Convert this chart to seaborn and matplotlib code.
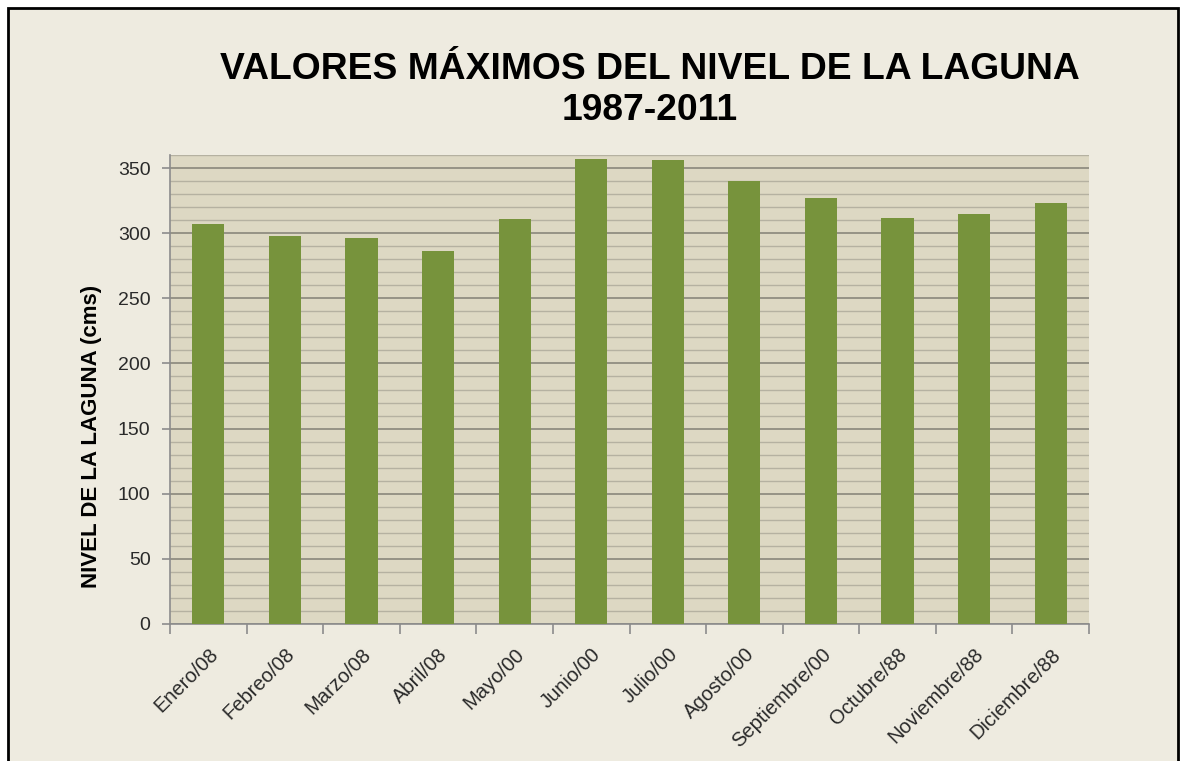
import matplotlib
matplotlib.use("Agg")
import matplotlib.pyplot as plt
import seaborn as sns
import pandas as pd
from matplotlib.patches import Rectangle
from matplotlib.ticker import MultipleLocator

categories = ["Enero/08", "Febreo/08", "Marzo/08", "Abril/08", "Mayo/00", "Junio/00",
              "Julio/00", "Agosto/00", "Septiembre/00", "Octubre/88", "Noviembre/88", "Diciembre/88"]
values = [307, 298, 296, 286, 311, 357, 356, 340, 327, 312, 315, 323]
title_text = "VALORES MÁXIMOS DEL NIVEL DE LA LAGUNA\n1987-2011"
ylabel_text = "NIVEL DE LA LAGUNA (cms)"

df = pd.DataFrame({"mes": categories, "nivel": values})

sns.set_theme(style="white")
plt.rcParams["font.family"] = ["Liberation Sans", "DejaVu Sans"]

fig = plt.figure(figsize=(11.85, 7.61), dpi=100)
fig.patch.set_facecolor("white")
# chart area background with border
border = Rectangle((8/1185, -0.05), (1178-8)/1185, 1.05 - 8/761, transform=fig.transFigure,
                   facecolor="#EEEBE0", edgecolor="black", linewidth=2, zorder=-10)
fig.patches.append(border)

ax = fig.add_axes([170/1185, 1 - 624/761, (1089-170)/1185, (624-155)/761])
ax.set_zorder(5)
ax.set_facecolor("#DDD8C3")

sns.barplot(data=df, x="mes", y="nivel", color="#77933C", width=0.42, saturation=1,
            ax=ax, zorder=3, edgecolor="none", linewidth=0)

ax.set_ylim(0, 360)
ax.set_xlim(-0.5, len(categories) - 0.5)
ax.yaxis.set_major_locator(MultipleLocator(50))
ax.yaxis.set_minor_locator(MultipleLocator(10))
ax.grid(axis="y", which="minor", color="#B5B1A1", linewidth=1, zorder=1)
ax.grid(axis="y", which="major", color="#8A877C", linewidth=1.2, zorder=1)
ax.set_axisbelow(True)

for s in ["top", "right"]:
    ax.spines[s].set_visible(False)
for s in ["left", "bottom"]:
    ax.spines[s].set_color("#8C8C8C")
    ax.spines[s].set_linewidth(1.2)

ax.set_xticks(range(len(categories)))
ax.set_xticklabels(categories, rotation=45, ha="right", rotation_mode="anchor", fontsize=14.5)
ax.tick_params(axis="x", which="major", length=0, pad=15)
# boundary ticks
ax.set_xticks([i - 0.5 for i in range(len(categories) + 1)], minor=True)
ax.tick_params(axis="x", which="minor", length=7, color="#8C8C8C", width=1.2, direction="out", bottom=True)
ax.tick_params(axis="y", which="major", length=6, color="#8C8C8C", width=1.2, direction="out",
               labelsize=14, pad=8, left=True)
ax.tick_params(axis="y", which="minor", length=0)
for lbl in ax.get_yticklabels() + ax.get_xticklabels():
    lbl.set_color("#2a2a2a")

ax.set_xlabel("")
ax.set_ylabel(ylabel_text, fontsize=16, fontweight="bold", labelpad=14, color="black")
ax.yaxis.set_label_coords(-0.074, 0.40)

fig.text(650/1185, 1 - 90/761, title_text, ha="center", va="center", fontsize=26.8,
         fontweight="bold", linespacing=1.25, color="black")

fig.savefig("out.png", dpi=100, facecolor=fig.get_facecolor())
